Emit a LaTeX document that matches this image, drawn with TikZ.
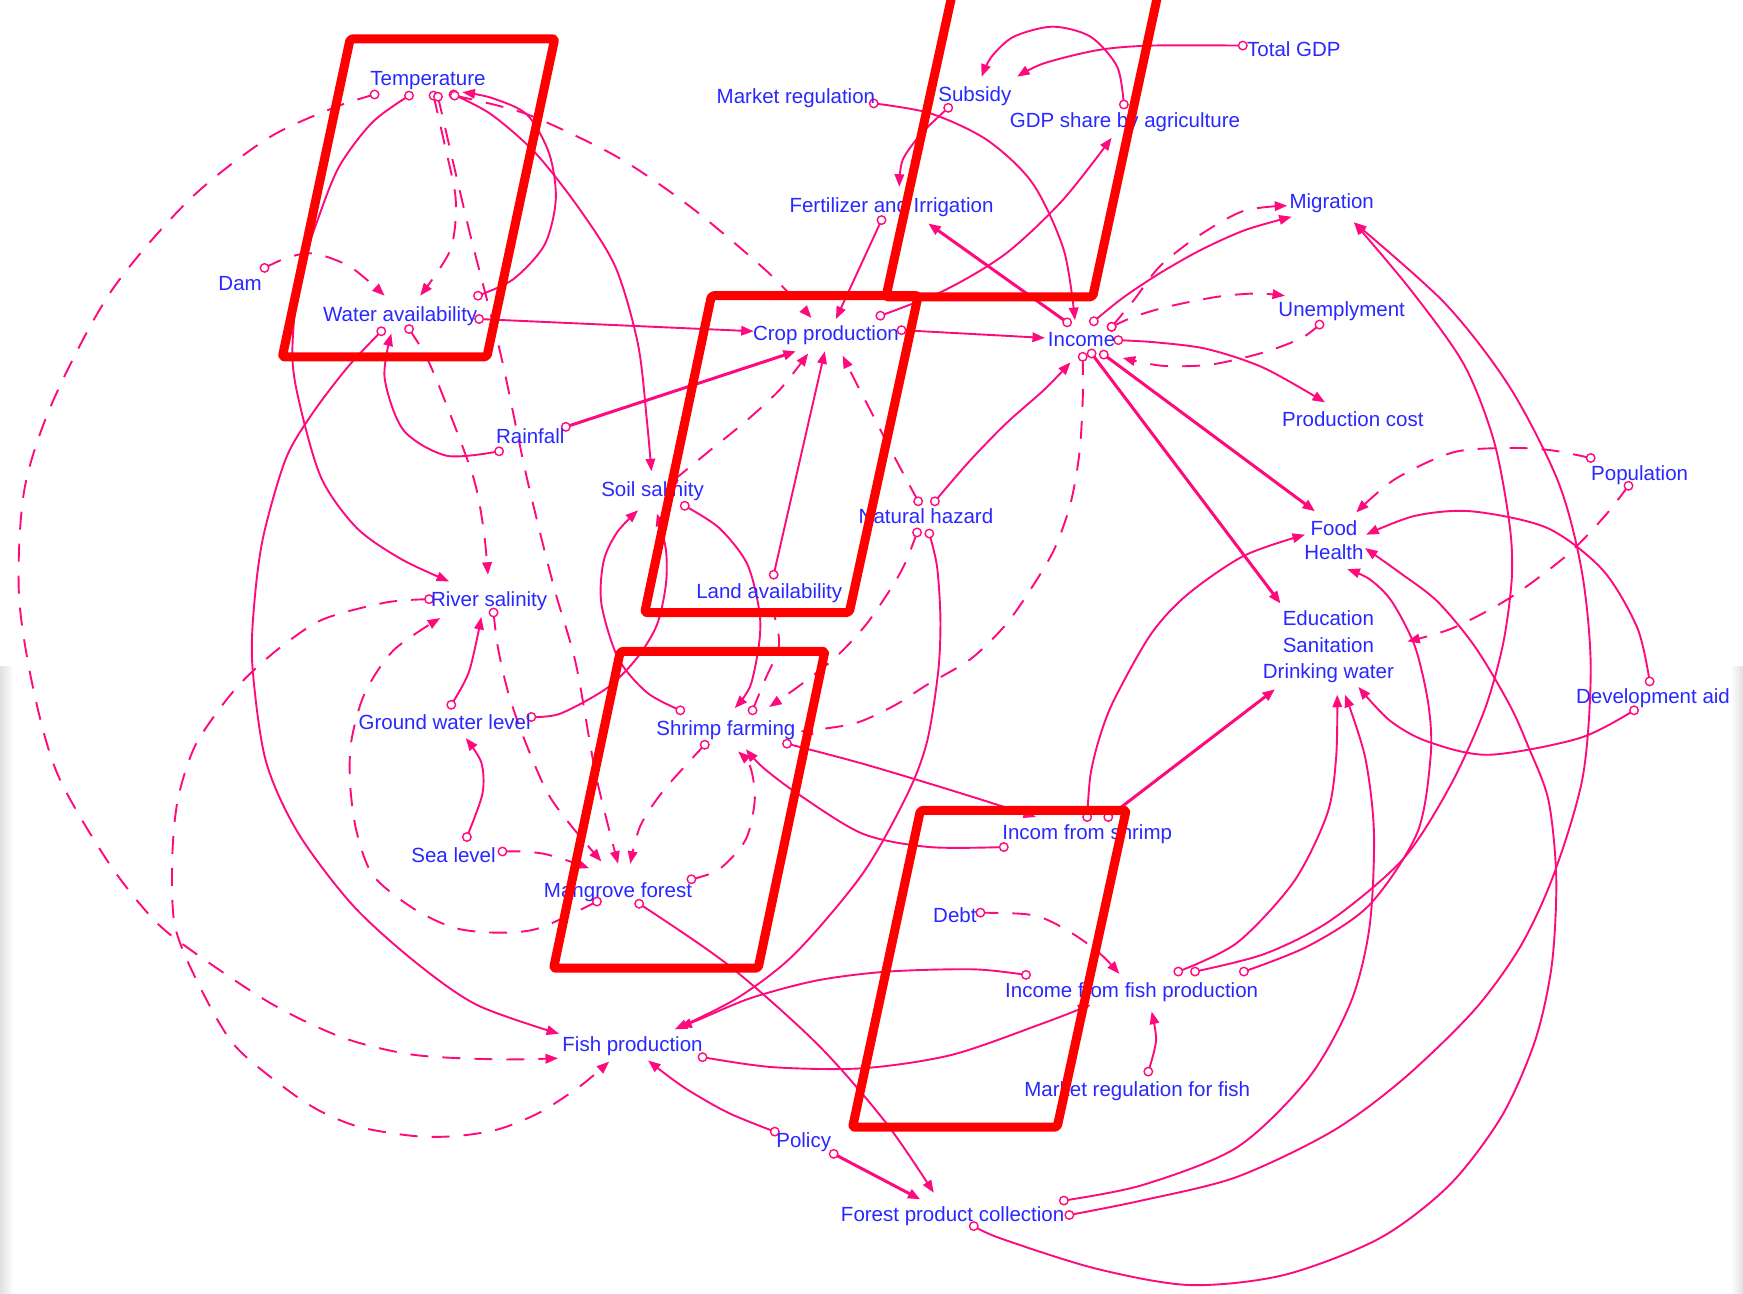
\documentclass[tikz,border=0pt]{standalone}
\usepackage{fontspec}
\setmainfont{Liberation Sans}
\usetikzlibrary{arrows.meta}
\definecolor{lk}{RGB}{255,10,125}
\definecolor{tx}{RGB}{40,40,255}
\definecolor{bx}{RGB}{255,0,0}
\pgfdeclarelayer{circ}\pgfdeclarelayer{lab}\pgfdeclarelayer{red}
\pgfsetlayers{main,circ,lab,red}
\tikzset{
 sol/.style={draw=lk, line width=1.9pt, -{Triangle[length=12.5pt,width=9.5pt]}},
 thk/.style={sol, line width=3pt},
 dsh/.style={sol, dash pattern=on 18pt off 14pt},
 dshplain/.style={draw=lk, line width=1.9pt, dash pattern=on 18pt off 14pt},
 oc/.style={circle, draw=lk, fill=white, line width=1.4pt, inner sep=0pt, minimum size=8.5pt},
 lbl/.style={text=tx, font=\fontsize{20.5}{23.3}\selectfont, inner sep=0pt, align=center},
 redbox/.style={draw=bx, line width=9pt, rounded corners=2pt, line join=round},
}
\newcommand{\conn}[6]{%
  \coordinate (#2) at (#3);
  \coordinate (#5) at (#6);
  \draw[#1] plot[smooth] coordinates {(#2) #4 (#5)};
  \begin{pgfonlayer}{circ}\node[oc] (c#2) at (#2) {};\end{pgfonlayer}}
\begin{document}
\begin{tikzpicture}[x=1.1116pt,y=-1.1116pt]
\useasboundingbox (0,0) rectangle (1568,1164);
\fill[white] (0,0) rectangle (1568,1164);
\shade[left color=black!12, right color=white] (0,600) rectangle (12,1164);
\shade[left color=white, right color=black!12] (1557,600) rectangle (1568,1164);

% ---------------- connectors ----------------
\conn{dsh}{sTa}{337,85}{(300,97) (240,125) (170,180) (100,262) (48,360) (22,440) (17,534) (30,620) (52,697) (97,775) (138,827) (175,857) (246,904) (310,934) (373,949) (448,953)}{tFPa}{502,952}
\conn{dsh}{sRSa}{386,539}{(347,542) (291,557) (254,581) (224,607) (201,633) (175,672) (160,719) (155,771) (157,831) (175,878) (209,938) (254,977) (287,999) (324,1014) (373,1022) (410,1022) (448,1016) (485,1001) (522,977)}{tFPb}{548,955}
\conn{dsh}{sMFa}{537,811}{(485,835) (448,839) (410,835) (373,818) (336,788) (321,749) (315,706) (316,667) (328,624) (354,585)}{tRSa}{396,556}
\conn{sol}{sTb}{368,86}{(335,110) (305,150) (285,200) (269,250) (263,317) (269,361) (289,430) (321,475) (361,503)}{tRSb}{404,523}
\conn{sol}{sWAa}{343,298}{(313,330) (281,372) (257,413) (237,482) (229,540) (227,598) (239,684) (268,749) (317,814) (373,865) (429,904)}{tFPc}{503,930}
\conn{dsh}{sWAb}{368,296}{(384,322) (402,365) (426,430) (435,476)}{tRSc}{439,517}
\conn{dsh}{sTc}{390,86}{(400,130) (410,180) (405,225)}{tWAa}{378,266}
\conn{dsh}{sTd}{394,87}{(422,207) (450,317) (474,430) (498,527) (518,597) (536,697)}{tMFa}{556,777}
\conn{dsh}{sDam}{238,241}{(258,232) (282,228) (315,240)}{tWAb}{346,266}
\conn{sol}{sTe}{408,85}{(442,103) (482,138) (522,189) (554,241) (574,310) (582,379)}{tSSa}{586,424}
\conn{sol}{sWAc}{430,266}{(462,251) (490,220) (500,179) (494,138) (474,103) (442,88)}{tTa}{416,83}
\conn{dsh}{sTf}{409,86}{(472,102) (542,134) (582,158) (630,193) (692,246)}{tCPa}{730,286}
\conn{sol}{sWAd}{431,287}{}{tCPb}{678,298}
\conn{sol}{sRFa}{449,406}{(402,410) (363,387) (346,340)}{tWAc}{352,300}
\conn{thk}{sRFb}{509,384}{}{tCPc}{716,316}
\conn{sol}{sSSa}{616,455}{(647,475) (672,507) (683,549) (683,578) (675,617)}{tSFa}{661,637}
\conn{sol}{sSFa}{612,639}{(582,623) (556,592) (541,543) (543,505) (555,479)}{tSSb}{574,459}
\conn{sol}{sGWa}{478,645}{(504,642) (546,619) (573,592) (591,562) (599,526) (599,494)}{tSSc}{591,462}
\conn{sol}{sGWb}{406,634}{(422,604)}{tRSd}{433,555}
\conn{sol}{sSLa}{420,753}{(434,714) (433,686)}{tGWa}{419,664}
\conn{dsh}{sRSb}{444,551}{(448,583) (458,626) (474,671) (493,714) (514,743)}{tMFb}{541,775}
\conn{dsh}{sSLb}{452,766}{(470,766) (489,768) (507,773)}{tMFc}{530,781}
\conn{dsh}{sSFb}{634,670}{(597,711) (576,743)}{tMFd}{567,777}
\conn{dsh}{sMFb}{622,791}{(647,782) (671,755) (679,719) (675,690)}{tSFb}{664,676}
\conn{sol}{sISa}{903,762}{(836,762) (776,750) (719,715) (687,691)}{tSFc}{671,674}
\conn{sol}{sSFc}{708,669}{(776,687) (856,711)}{tISa}{932,735}
\conn{dsh}{sINa}{974,321}{(974,360) (971,408) (963,453) (948,495) (924,535) (903,564) (873,593) (834,616) (804,635) (768,651)}{tSFd}{720,658}
\conn{sol}{sNHa}{841,451}{(872,415) (905,381) (940,350)}{tINa}{963,326}
\conn{sol}{sINb}{984,289}{(1010,268) (1043,246) (1080,225) (1120,207)}{tMGa}{1162,195}
\conn{dsh}{sINc}{1000,294}{(1020,270) (1043,240) (1077,213) (1118,190)}{tMGb}{1158,185}
\conn{dsh}{sINc}{1000,294}{(1020,285) (1050,276) (1095,267) (1130,264)}{tUEa}{1156,266}
\conn{dsh}{sUEa}{1187,292}{(1171,304) (1137,317) (1089,328) (1045,329)}{tINb}{1010,322}
\conn{sol}{sINd}{1006,306}{(1040,308) (1086,314) (1137,331)}{tPCa}{1192,362}
\conn{thk}{sINe}{982,318}{}{tEDa}{1152,543}
\conn{thk}{sINf}{993,319}{}{tFHa}{1183,460}
\conn{thk}{sINg}{960,290}{}{tFIa}{835,201}
\conn{sol}{sCPa}{792,284}{(850,261) (905,228) (956,180)}{tGDa}{1000,124}
\conn{sol}{sCPb}{811,297}{}{tINc}{940,304}
\conn{sol}{sFIa}{793,198}{}{tCPd}{752,287}
\conn{sol}{sMRa}{786,93}{(837,102) (888,126) (929,165) (957,225)}{tINd}{967,288}
\conn{sol}{sSBa}{853,97}{(829,120) (812,144)}{tFIb}{809,168}
\conn{sol}{sGDa}{1011,94}{(1005,60) (981,33) (947,24) (912,33) (892,51)}{tSBa}{883,69}
\conn{sol}{sTGa}{1118,41}{(1036,41) (988,45) (939,57)}{tSBb}{915,69}
\conn{dsh}{sNHb}{826,451}{(803,408) (785,373) (770,344)}{tCPe}{758,320}
\conn{sol}{sLAa}{696,517}{}{tCPf}{742,316}
\conn{dsh}{sSSc}{606,432}{(639,405) (672,378) (702,350)}{tCPg}{727,318}
\conn{dsh}{sNHc}{825,479}{(815,505) (803,527) (779,562) (752,591) (719,617)}{tSFe}{692,636}
\conn{sol}{sNHd}{836,480}{(843,510) (846,557) (844,604) (834,667) (816,715) (776,786) (715,858) (663,898)}{tFPd}{607,926}
\conn{dshplain}{sSFd}{677,639}{(688,612) (700,585) (700,568)}{tLAa}{696,552}
\conn{sol}{sISb}{978,735}{(981,697) (989,664) (1002,630) (1035,571) (1068,535) (1119,500)}{tFHb}{1174,481}
\conn{thk}{sISc}{997,735}{}{tEDb}{1147,620}
\conn{dsh}{sDBa}{882,821}{(918,822) (936,825) (957,835) (977,848) (993,861)}{tIFa}{1007,876}
\conn{sol}{sIFa}{923,877}{(876,872) (799,874) (735,882) (675,898) (627,918)}{tFPe}{611,924}
\conn{sol}{sFPa}{632,951}{(695,960) (776,961) (856,949) (937,921)}{tIFb}{981,904}
\conn{sol}{sMFFa}{1033,964}{(1040,936)}{tIFc}{1036,910}
\conn{sol}{sMFc}{575,813}{(655,868) (736,940) (797,1010)}{tFCa}{840,1073}
\conn{thk}{sPOa}{750,1038}{}{tFCb}{828,1079}
\conn{sol}{sPOb}{697,1018}{(655,1001) (615,978)}{tFPf}{583,954}
\conn{sol}{sIFb}{1060,874}{(1113,848) (1164,793) (1194,732) (1202,681)}{tEDc}{1203,625}
\conn{sol}{sIFc}{1075,874}{(1138,858) (1197,828) (1262,773) (1304,708) (1335,640) (1352,580) (1360,520) (1358,472) (1344,397) (1317,328) (1270,262)}{tMGc}{1218,200}
\conn{sol}{sIFd}{1119,874}{(1177,851) (1232,814) (1275,749) (1287,680) (1285,634) (1273,582) (1252,541) (1232,521)}{tFHc}{1212,512}
\conn{sol}{sFCa}{957,1080}{(1028,1066) (1113,1032) (1177,970) (1215,902) (1232,834) (1236,749) (1228,681)}{tEDd}{1210,625}
\conn{sol}{sFCb}{962,1093}{(1027,1080) (1112,1059) (1198,1018) (1262,971) (1326,909) (1368,851) (1398,786) (1424,698) (1431,600) (1423,514) (1402,434) (1358,348) (1300,273)}{tMGd}{1218,200}
\conn{sol}{sFCc}{876,1103}{(900,1114) (985,1141) (1070,1156) (1155,1147) (1241,1114) (1304,1066) (1351,1004) (1381,936) (1396,868) (1400,790) (1393,720) (1375,672) (1358,634) (1327,582) (1293,541) (1259,515)}{tFHd}{1228,493}
\conn{sol}{sDAa}{1484,613}{(1473,565) (1442,513) (1392,475) (1324,460) (1273,464)}{tFHe}{1229,481}
\conn{sol}{sDAb}{1470,639}{(1421,664) (1339,679) (1284,667) (1250,648)}{tEDe}{1222,618}
\conn{dsh}{sPPa}{1431,412}{(1395,405) (1358,403) (1307,407) (1255,431)}{tFHf}{1220,461}
\conn{dsh}{sPPb}{1465,437}{(1443,465) (1409,500) (1358,538) (1307,565)}{tEDf}{1266,577}

% ---------------- labels ----------------
\begin{pgfonlayer}{lab}
\node[lbl, anchor=base] (temp) at (385,77) {Temperature};
\node[lbl, anchor=base] (dam) at (216,261) {Dam};
\node[lbl, anchor=base] (wa) at (360,289) {Water availability};
\node[lbl, anchor=base] (rain) at (477,399) {Rainfall};
\node[lbl, anchor=base] (soil) at (587,447) {Soil salinity};
\node[lbl, anchor=base] (river) at (440,546) {River salinity};
\node[lbl, anchor=base] (gw) at (400,656) {Ground water level};
\node[lbl, anchor=base] (sea) at (408,776) {Sea level};
\node[lbl, anchor=base] (mang) at (556,807) {Mangrove forest};
\node[lbl, anchor=base] (shrimp) at (653,662) {Shrimp farming};
\node[lbl, anchor=base] (land) at (692,538) {Land availability};
\node[lbl, anchor=base] (nh) at (833,471) {Natural hazard};
\node[lbl, anchor=base] (crop) at (743,306) {Crop production};
\node[lbl, anchor=base] (fert) at (802,191) {Fertilizer and Irrigation};
\node[lbl, anchor=base] (mreg) at (716,93) {Market regulation};
\node[lbl, anchor=base] (subs) at (877,91) {Subsidy};
\node[lbl, anchor=base] (gdps) at (1012,115) {GDP share by agriculture};
\node[lbl, anchor=base] (tgdp) at (1164,51) {Total GDP};
\node[lbl, anchor=base] (inc) at (973,312) {Income};
\node[lbl, anchor=base] (migr) at (1198,188) {Migration};
\node[lbl, anchor=base] (unem) at (1207,285) {Unemplyment};
\node[lbl, anchor=base] (pcost) at (1217,384) {Production cost};
\node[lbl, anchor=base] (pop) at (1475,432) {Population};
\node[lbl] (food) at (1200,486) {Food\\Health};
\node[lbl, font=\fontsize{20.5}{26.7}\selectfont] (edu) at (1195,582) {Education\\Sanitation\\Drinking water};
\node[lbl, anchor=base] (dev) at (1487,633) {Development aid};
\node[lbl, anchor=base] (incs) at (978,755) {Incom from shrimp};
\node[lbl, anchor=base] (debt) at (859,830) {Debt};
\node[lbl, anchor=base] (incf) at (1018,897) {Income from fish production};
\node[lbl, anchor=base] (mregf) at (1023,986) {Market regulation for fish};
\node[lbl, anchor=base] (fish) at (569,946) {Fish production};
\node[lbl, anchor=base] (pol) at (723,1032) {Policy};
\node[lbl, anchor=base] (forest) at (857,1099) {Forest product collection};
\end{pgfonlayer}

% ---------------- red frames ----------------
\begin{pgfonlayer}{red}
\draw[redbox] (315,35) -- (499,35) -- (438,321) -- (254,321) -- cycle;
\draw[redbox] (862,-30) -- (797,267) -- (983,267) -- (1047,-30);
\draw[redbox] (640,266) -- (826,266) -- (764,551) -- (580,551) -- cycle;
\draw[redbox] (558,586) -- (742,586) -- (682,871) -- (498,871) -- cycle;
\draw[redbox] (828,729) -- (1013,729) -- (951,1014) -- (767,1014) -- cycle;
\end{pgfonlayer}
\end{tikzpicture}
\end{document}
